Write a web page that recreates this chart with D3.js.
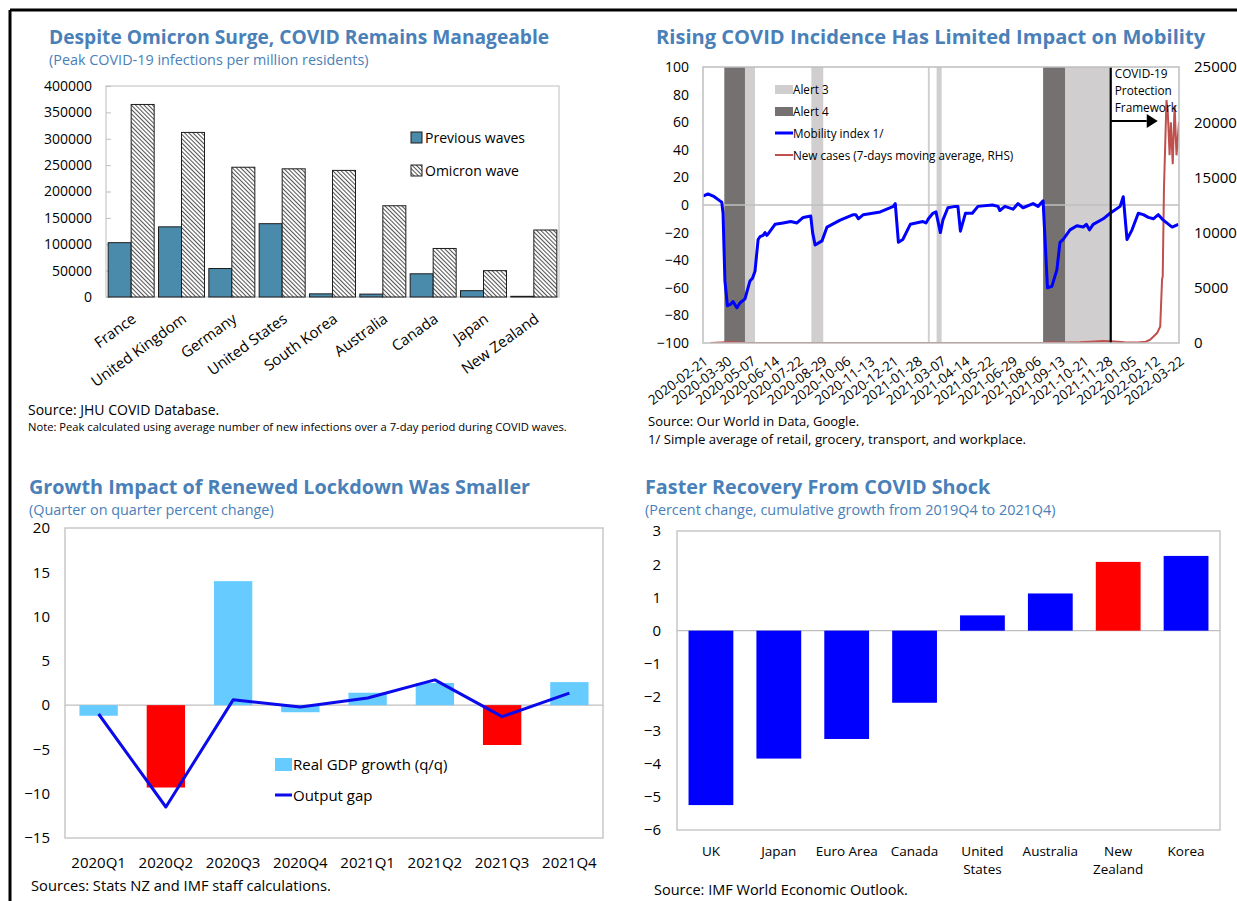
<!DOCTYPE html>
<html><head><meta charset="utf-8">
<script src="https://cdn.jsdelivr.net/npm/d3@7"></script>
<style>body{margin:0;background:#fff} text{font-family:"Open Sans",sans-serif;fill:#000}</style>
</head><body><svg id="c" width="1237" height="901"></svg>
<script>
// ---------- DATA ----------
const peakCountries = ["France","United Kingdom","Germany","United States","South Korea","Australia","Canada","Japan","New Zealand"];
const peakPrevious = [103000,133000,54000,139000,6000,5500,44000,12000,1300];
const peakOmicron = [365000,312000,246000,243000,240000,173000,92000,50000,127000];
const peakTicks = [0,50000,100000,150000,200000,250000,300000,350000,400000];

const mobilityTickLabels = ["2020-02-21","2020-03-30","2020-05-07","2020-06-14","2020-07-22","2020-08-29","2020-10-06","2020-11-13","2020-12-21","2021-01-28","2021-03-07","2021-04-14","2021-05-22","2021-06-29","2021-08-06","2021-09-13","2021-10-21","2021-11-28","2022-01-05","2022-02-12","2022-03-22"];
const mobilityLeftTicks = [-100,-80,-60,-40,-20,0,20,40,60,80,100];
const casesRightTicks = [0,5000,10000,15000,20000,25000];
const mobilityDates = ["2020-02-21","2020-02-29","2020-03-10","2020-03-19","2020-03-22","2020-03-24","2020-03-27","2020-03-31","2020-04-05","2020-04-09","2020-04-15","2020-04-20","2020-04-28","2020-05-06","2020-05-10","2020-05-14","2020-05-19","2020-05-22","2020-05-27","2020-05-30","2020-06-02","2020-06-04","2020-06-15","2020-06-28","2020-07-10","2020-07-20","2020-07-30","2020-08-11","2020-08-14","2020-08-18","2020-08-29","2020-09-06","2020-09-27","2020-10-18","2020-10-22","2020-10-26","2020-11-03","2020-11-30","2020-12-21","2020-12-24","2020-12-29","2021-01-05","2021-01-17","2021-02-06","2021-02-11","2021-02-15","2021-02-22","2021-02-27","2021-03-06","2021-03-10","2021-03-18","2021-03-30","2021-04-03","2021-04-07","2021-04-15","2021-04-26","2021-05-05","2021-05-28","2021-06-06","2021-06-09","2021-06-17","2021-06-30","2021-07-08","2021-07-16","2021-08-01","2021-08-09","2021-08-17","2021-08-24","2021-08-31","2021-09-08","2021-09-13","2021-09-18","2021-09-29","2021-10-10","2021-10-20","2021-10-25","2021-10-30","2021-11-05","2021-11-21","2021-12-02","2021-12-18","2021-12-23","2021-12-29","2022-01-06","2022-01-16","2022-01-24","2022-02-01","2022-02-09","2022-02-17","2022-02-25","2022-03-11","2022-03-21"];
const mobilityValues = [6.5,8,6,3,2,-6,-55,-73,-72,-70,-74.5,-71,-68,-55,-53,-48,-25,-23,-22,-20,-22,-21,-14,-13,-12,-13,-9,-8,-20,-29,-26,-16,-11,-7,-7,-10,-7,-5,-1,1,-27,-25,-14,-12,-13,-10,-6,-5,-20,-11,-2,-1,-1,-19,-6,-6,-1,0,-1,-4,-1,-3,1,-2,1,-1,3,-60,-59,-47,-27,-25,-18,-15,-16,-14,-18,-14,-10,-6,-1,6,-25,-18,-6,-7,-9,-10,-7,-11,-16,-14];
const casesDates = ["2020-03-04","2020-04-05","2020-05-01","2020-08-20","2021-08-17","2021-08-28","2021-09-15","2021-10-15","2021-11-01","2021-11-20","2021-12-03","2021-12-25","2022-01-15","2022-01-28","2022-02-04","2022-02-15","2022-02-20","2022-02-23","2022-02-24","2022-02-26","2022-03-02","2022-03-04","2022-03-07","2022-03-09","2022-03-12","2022-03-15","2022-03-18","2022-03-22"];
const casesValues = [0,80,5,10,0,70,20,60,120,190,150,60,40,120,300,900,1500,5800,6000,14000,22000,21000,17000,20000,16200,21500,17000,20000];
const alert3Periods = [["2020-04-28","2020-05-14"],["2020-08-12","2020-08-31"],["2021-02-14","2021-02-17"],["2021-02-28","2021-03-08"],["2021-09-21","2021-12-02"]];
const alert4Periods = [["2020-03-26","2020-04-28"],["2021-08-17","2021-09-21"]];
const frameworkStart = "2021-12-03";
const mobilityDomain = ["2020-02-21","2022-03-22"];

const quarters = ["2020Q1","2020Q2","2020Q3","2020Q4","2021Q1","2021Q2","2021Q3","2021Q4"];
const gdpGrowth = [-1.2,-9.3,14.0,-0.8,1.4,2.5,-4.5,2.6];
const outputGap = [-1.0,-11.5,0.6,-0.2,0.8,2.85,-1.3,1.35];
const lockdownQuarter = [false,true,false,false,false,false,true,false];
const gdpTicks = [-15,-10,-5,0,5,10,15,20];

const recoveryCountries = [["UK"],["Japan"],["Euro Area"],["Canada"],["United","States"],["Australia"],["New","Zealand"],["Korea"]];
const recoveryValues = [-5.25,-3.85,-3.26,-2.17,0.46,1.12,2.07,2.25];
const recoveryHighlight = [false,false,false,false,false,false,true,false];
const recoveryTicks = [-6,-5,-4,-3,-2,-1,0,1,2,3];

// ---------- DRAW ----------
const svg = d3.select("#c");
const TITLE = "#4a80b8";
const defs = svg.append("defs");
const pat = defs.append("pattern").attr("id","hatch").attr("patternUnits","userSpaceOnUse")
  .attr("width",3).attr("height",3).attr("patternTransform","rotate(-45)");
pat.append("rect").attr("width",3).attr("height",3).attr("fill","#fff");
pat.append("line").attr("x1",0.5).attr("y1",0).attr("x2",0.5).attr("y2",3).attr("stroke","#555").attr("stroke-width",1.1);

// frame
svg.append("line").attr("x1",10).attr("y1",10).attr("x2",1237).attr("y2",10).attr("stroke","#000").attr("stroke-width",3);
svg.append("line").attr("x1",10).attr("y1",10).attr("x2",10).attr("y2",901).attr("stroke","#000").attr("stroke-width",3);

function title(x,y,t,s){svg.append("text").attr("x",x).attr("y",y).attr("font-size",s).attr("font-weight",700).style("fill",TITLE).text(t);}
function subtitle(x,y,t){svg.append("text").attr("x",x).attr("y",y).attr("font-size",14.4).style("fill",TITLE).text(t);}
function note(x,y,t,s){svg.append("text").attr("x",x).attr("y",y).attr("font-size",s||13).text(t);}
function styleAxis(g,fs){g.select(".domain").remove();g.selectAll("text").attr("font-size",fs||14).attr("font-family","'Open Sans',sans-serif").style("fill","#000");g.selectAll("line").attr("stroke","#bfbfbf");}

// ===== Panel 1 =====
title(49,44,"Despite Omicron Surge, COVID Remains Manageable",19.2);
subtitle(49,65,"(Peak COVID-19 infections per million residents)");
{
  const L=106,R=559,T=86,B=297;
  const x0=d3.scaleBand().domain(peakCountries).range([L,R]).paddingInner(0.086).paddingOuter(0.043);
  const x1=d3.scaleBand().domain(["p","o"]).range([0,x0.bandwidth()]);
  const y=d3.scaleLinear().domain([0,400000]).range([B,T]);
  svg.append("rect").attr("x",L).attr("y",T).attr("width",R-L).attr("height",B-T).attr("fill","none").attr("stroke","#d4d4d4").attr("stroke-width",1.5);
  const ax=svg.append("g").attr("transform",`translate(${L},0)`).call(d3.axisLeft(y).tickValues(peakTicks).tickSize(-5).tickPadding(14).tickFormat(d3.format("d")));
  styleAxis(ax);
  const g=svg.append("g");
  peakCountries.forEach((c,i)=>{
    g.append("rect").attr("x",x0(c)+x1("p")).attr("y",y(peakPrevious[i])).attr("width",x1.bandwidth()).attr("height",y(0)-y(peakPrevious[i]))
      .attr("fill","#4a8aab").attr("stroke","#1d1d1d").attr("stroke-width",1);
    g.append("rect").attr("x",x0(c)+x1("o")).attr("y",y(peakOmicron[i])).attr("width",x1.bandwidth()).attr("height",y(0)-y(peakOmicron[i]))
      .attr("fill","url(#hatch)").attr("stroke","#1d1d1d").attr("stroke-width",1);
    const cx=x0(c)+x0.bandwidth()/2;
    svg.append("text").attr("transform",`translate(${cx+6},${B+24}) rotate(-36)`).attr("text-anchor","end").attr("font-size",15).text(c);
  });
  svg.append("rect").attr("x",411).attr("y",132).attr("width",11).attr("height",11).attr("fill","#4a8aab").attr("stroke","#1d1d1d");
  svg.append("text").attr("x",425).attr("y",143).attr("font-size",14).text("Previous waves");
  svg.append("rect").attr("x",411).attr("y",165).attr("width",11).attr("height",11).attr("fill","url(#hatch)").attr("stroke","#1d1d1d");
  svg.append("text").attr("x",425).attr("y",176).attr("font-size",14).text("Omicron wave");
  note(28,415,"Source: JHU COVID Database.",14);
  note(28,431,"Note: Peak calculated using average number of new infections over a 7-day period during COVID waves.",11.2);
}

// ===== Panel 2 =====
title(656,44,"Rising COVID Incidence Has Limited Impact on Mobility",20.1);
{
  const L=703,R=1179,T=67,B=343;
  const parse=d3.timeParse("%Y-%m-%d");
  const x=d3.scaleTime().domain(mobilityDomain.map(parse)).range([L,R]);
  const yL=d3.scaleLinear().domain([-100,100]).range([B,T]);
  const yR=d3.scaleLinear().domain([0,25000]).range([B,T]);
  defs.append("clipPath").attr("id","clipM").append("rect").attr("x",L).attr("y",T).attr("width",R-L).attr("height",B-T);
  const pg=svg.append("g").attr("clip-path","url(#clipM)");
  alert3Periods.forEach(p=>pg.append("rect").attr("x",x(parse(p[0]))).attr("width",x(parse(p[1]))-x(parse(p[0]))).attr("y",T).attr("height",B-T).attr("fill","#d0cece"));
  alert4Periods.forEach(p=>pg.append("rect").attr("x",x(parse(p[0]))).attr("width",x(parse(p[1]))-x(parse(p[0]))).attr("y",T).attr("height",B-T).attr("fill","#767171"));
  pg.append("line").attr("x1",L).attr("x2",R).attr("y1",yL(0)).attr("y2",yL(0)).attr("stroke","#bfbfbf").attr("stroke-width",1.5);
  const casesLine=d3.line().x((d,i)=>x(parse(casesDates[i]))).y(d=>yR(d));
  pg.append("path").attr("d",casesLine(casesValues)).attr("fill","none").attr("stroke","#c0504d").attr("stroke-width",2);
  const mobLine=d3.line().x((d,i)=>x(parse(mobilityDates[i]))).y(d=>yL(d));
  pg.append("path").attr("d",mobLine(mobilityValues)).attr("fill","none").attr("stroke","#0000ff").attr("stroke-width",3).attr("stroke-linejoin","round");
  const fx=x(parse(frameworkStart));
  pg.append("line").attr("x1",fx).attr("x2",fx).attr("y1",T).attr("y2",B).attr("stroke","#000").attr("stroke-width",2.2);
  ["COVID-19","Protection","Framework"].forEach((t,i)=>pg.append("text").attr("x",fx+4).attr("y",T+11+i*17).attr("font-size",11.8).text(t));
  pg.append("line").attr("x1",fx).attr("x2",fx+36).attr("y1",121).attr("y2",121).attr("stroke","#000").attr("stroke-width",2.2);
  pg.append("path").attr("d",`M${fx+36},114L${fx+47},121L${fx+36},128Z`).attr("fill","#000");
  svg.append("rect").attr("x",L).attr("y",T).attr("width",R-L).attr("height",B-T).attr("fill","none").attr("stroke","#bfbfbf").attr("stroke-width",1.5);
  const al=svg.append("g").attr("transform",`translate(${L},0)`).call(d3.axisLeft(yL).tickValues(mobilityLeftTicks).tickSize(0).tickPadding(14));
  styleAxis(al);
  const ar=svg.append("g").attr("transform",`translate(${R},0)`).call(d3.axisRight(yR).tickValues(casesRightTicks).tickSize(0).tickPadding(15).tickFormat(d3.format("d")));
  styleAxis(ar,15);
  mobilityTickLabels.forEach(t=>{
    svg.append("text").attr("transform",`translate(${x(parse(t))+6},${B+20}) rotate(-37)`).attr("text-anchor","end").attr("font-size",13.5).text(t);
  });
  // legend
  svg.append("rect").attr("x",775).attr("y",85).attr("width",18).attr("height",9).attr("fill","#d0cece");
  svg.append("text").attr("x",793).attr("y",94).attr("font-size",11.7).text("Alert 3");
  svg.append("rect").attr("x",775).attr("y",107).attr("width",18).attr("height",9).attr("fill","#767171");
  svg.append("text").attr("x",793).attr("y",116).attr("font-size",11.7).text("Alert 4");
  svg.append("line").attr("x1",775).attr("x2",793).attr("y1",133).attr("y2",133).attr("stroke","#0000ff").attr("stroke-width",3);
  svg.append("text").attr("x",793).attr("y",138).attr("font-size",11.7).text("Mobility index 1/");
  svg.append("line").attr("x1",775).attr("x2",793).attr("y1",155).attr("y2",155).attr("stroke","#c0504d").attr("stroke-width",2);
  svg.append("text").attr("x",793).attr("y",160).attr("font-size",11.7).text("New cases (7-days moving average, RHS)");
  note(648,426,"Source: Our World in Data, Google.",13);
  note(648,444,"1/ Simple average of retail, grocery, transport, and workplace.",13.2);
}

// ===== Panel 3 =====
title(29,494,"Growth Impact of Renewed Lockdown Was Smaller",19.8);
subtitle(29,515,"(Quarter on quarter percent change)");
{
  const L=65,R=603,T=528,B=838;
  const x=d3.scaleBand().domain(quarters).range([L,R]).paddingInner(0.43).paddingOuter(0.215);
  const y=d3.scaleLinear().domain([-15,20]).range([B,T]);
  svg.append("rect").attr("x",L).attr("y",T).attr("width",R-L).attr("height",B-T).attr("fill","none").attr("stroke","#c8c8c8").attr("stroke-width",1.5);
  svg.append("line").attr("x1",L).attr("x2",R).attr("y1",y(0)).attr("y2",y(0)).attr("stroke","#bfbfbf").attr("stroke-width",1.2);
  quarters.forEach((q,i)=>{
    const v=gdpGrowth[i];
    svg.append("rect").attr("x",x(q)).attr("width",x.bandwidth()).attr("y",y(Math.max(0,v))).attr("height",Math.abs(y(v)-y(0)))
      .attr("fill",lockdownQuarter[i]?"#ff0000":"#66ccff");
    svg.append("text").attr("x",x(q)+x.bandwidth()/2).attr("y",868).attr("text-anchor","middle").attr("font-size",15).text(q);
  });
  const ln=d3.line().x((d,i)=>x(quarters[i])+x.bandwidth()/2).y(d=>y(d));
  svg.append("path").attr("d",ln(outputGap)).attr("fill","none").attr("stroke","#0a0aea").attr("stroke-width",3).attr("stroke-linejoin","round");
  const ax=svg.append("g").attr("transform",`translate(${L},0)`).call(d3.axisLeft(y).tickValues(gdpTicks).tickSize(0).tickPadding(15));
  styleAxis(ax,15);
  svg.append("rect").attr("x",275).attr("y",758).attr("width",17).attr("height",13).attr("fill","#66ccff");
  svg.append("text").attr("x",293).attr("y",770).attr("font-size",15).text("Real GDP growth (q/q)");
  svg.append("line").attr("x1",275).attr("x2",292).attr("y1",795).attr("y2",795).attr("stroke","#0a0aea").attr("stroke-width",3);
  svg.append("text").attr("x",293).attr("y",801).attr("font-size",15).text("Output gap");
  note(31,891,"Sources: Stats NZ and IMF staff calculations.",14.7);
}

// ===== Panel 4 =====
title(645,494,"Faster Recovery From COVID Shock",19.8);
subtitle(645,515,"(Percent change, cumulative growth from 2019Q4 to 2021Q4)");
{
  const L=677,R=1220,T=531,B=830;
  const names=recoveryCountries.map(d=>d.join(" "));
  const x=d3.scaleBand().domain(names).range([L,R]).paddingInner(0.34).paddingOuter(0.17);
  const y=d3.scaleLinear().domain([-6,3]).range([B,T]);
  svg.append("rect").attr("x",L).attr("y",T).attr("width",R-L).attr("height",B-T).attr("fill","none").attr("stroke","#c8c8c8").attr("stroke-width",1.5);
  svg.append("line").attr("x1",L).attr("x2",R).attr("y1",y(0)).attr("y2",y(0)).attr("stroke","#bfbfbf").attr("stroke-width",1.2);
  names.forEach((n,i)=>{
    const v=recoveryValues[i];
    svg.append("rect").attr("x",x(n)).attr("width",x.bandwidth()).attr("y",y(Math.max(0,v))).attr("height",Math.abs(y(v)-y(0)))
      .attr("fill",recoveryHighlight[i]?"#ff0000":"#0000ff");
    recoveryCountries[i].forEach((line,j)=>svg.append("text").attr("x",x(n)+x.bandwidth()/2).attr("y",856+j*18).attr("text-anchor","middle").attr("font-size",13.5).text(line));
  });
  const ax=svg.append("g").attr("transform",`translate(${L},0)`).call(d3.axisLeft(y).tickValues(recoveryTicks).tickSize(0).tickPadding(16));
  styleAxis(ax,15);
  note(654,895,"Source: IMF World Economic Outlook.",14.5);
}
</script></body></html>
